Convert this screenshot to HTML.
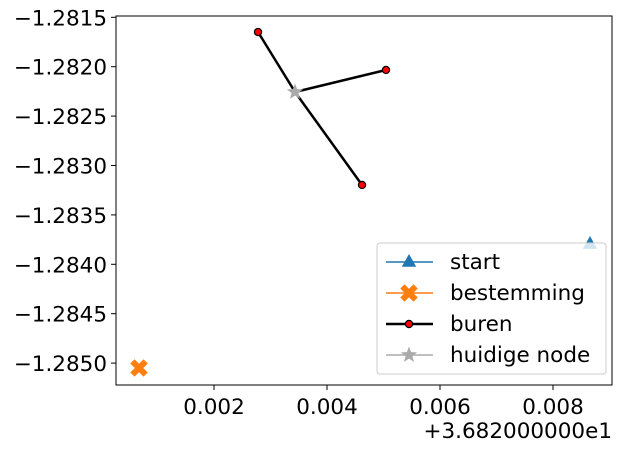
<!DOCTYPE html>
<html><head><meta charset="utf-8"><style>
html,body{margin:0;padding:0;background:#fff}
svg text{font-family:"DejaVu Sans","Liberation Sans",sans-serif;fill:#000}
</style></head><body>
<svg id="chart" width="622" height="449" viewBox="0 0 622 449"></svg>
<script>
const xTicks=[0.002,0.004,0.006,0.008];
const xTickLabels=["0.002","0.004","0.006","0.008"];
const yTicks=[-1.2815,-1.2820,-1.2825,-1.2830,-1.2835,-1.2840,-1.2845,-1.2850];
const yTickLabels=["\u22121.2815","\u22121.2820","\u22121.2825","\u22121.2830","\u22121.2835","\u22121.2840","\u22121.2845","\u22121.2850"];
const startPt=[0.008655,-1.283795];
const destPt=[0.000673,-1.285049];
const currentPt=[0.003434,-1.282256];
const neighborX=[0.002779,0.005044,0.004620];
const neighborY=[-1.281649,-1.282033,-1.283197];
const legendLabels=["start","bestemming","buren","huidige node"];

const L=116,R=612,T=16,B=385,FS=21.5;
function sx(v){return 214+(v-0.002)*56500;}
function sy(v){return 17.3+(-1.2815-v)*98800;}
const svg=document.getElementById('chart');
const NS='http://www.w3.org/2000/svg';
function mk(tag,attrs,parent){const e=document.createElementNS(NS,tag);for(const k in attrs)e.setAttribute(k,attrs[k]);(parent||svg).appendChild(e);return e;}
function tri(x,y,s,c,p){return mk('polygon',{points:`${x},${y-s} ${x-s*0.9},${y+s*0.6} ${x+s*0.9},${y+s*0.6}`,fill:c},p);}
function cross(x,y,c,p){const g=mk('g',{},p);mk('path',{d:`M${x-4.5},${y-4.5}L${x+4.5},${y+4.5}M${x+4.5},${y-4.5}L${x-4.5},${y+4.5}`,stroke:c,'stroke-width':6,'stroke-linecap':'square'},g);return g;}
function star(x,y,r,c,p){let q=[];for(let i=0;i<10;i++){const a=-Math.PI/2+i*Math.PI/5;const rr=i%2?r*0.42:r;q.push((x+rr*Math.cos(a)).toFixed(1)+','+(y+rr*Math.sin(a)).toFixed(1));}return mk('polygon',{points:q.join(' '),fill:c},p);}

const frame=mk('rect',{x:L,y:T,width:R-L,height:B-T,fill:'none',stroke:'#000','stroke-width':1});


xTicks.forEach((v,i)=>{
  const x=sx(v);
  const t=mk('line',{x1:x,x2:x,y1:B,y2:B+5,stroke:'#000'});
  
  
  const lb=mk('text',{x:x,y:B+29,'text-anchor':'middle','font-size':FS});
  lb.textContent=xTickLabels[i];
  
  
});
const off=mk('text',{x:R,y:B+53,'text-anchor':'end','font-size':FS});
off.textContent='+3.682000000e1';


yTicks.forEach((v,i)=>{
  const y=sy(v);
  const t=mk('line',{x1:L-5,x2:L,y1:y,y2:y,stroke:'#000'});
  
  
  const lb=mk('text',{x:L-9,y:y+8,'text-anchor':'end','font-size':FS});
  lb.textContent=yTickLabels[i];
  
  
});
const s1=tri(sx(startPt[0]),sy(startPt[1]),8,'#1f77b4');


const s2=cross(sx(destPt[0]),sy(destPt[1]),'#ff7f0e');


neighborX.forEach((nx,i)=>{
  const ln=mk('line',{x1:sx(currentPt[0]),y1:sy(currentPt[1]),x2:sx(nx),y2:sy(neighborY[i]),stroke:'#000','stroke-width':2.5});
  
  
});
neighborX.forEach((nx,i)=>{
  const c=mk('circle',{cx:sx(nx),cy:sy(neighborY[i]),r:3.6,fill:'#ff0000',stroke:'#000','stroke-width':1.2});
  
  
});
const cs=star(sx(currentPt[0]),sy(currentPt[1]),8.5,'#aaaaaa');


const lg=mk('g',{});


mk('rect',{x:377,y:243,width:229,height:131,rx:3,fill:'#fff','fill-opacity':0.8,stroke:'#cccccc'},lg);
const ly=[262,293,324,355];
const cols=['#1f77b4','#ff7f0e','#000','#aaaaaa'];
legendLabels.forEach((name,i)=>{
  const y=ly[i];
  const e=mk('g',{},lg);
  
  
  mk('line',{x1:386,x2:433,y1:y,y2:y,stroke:cols[i],'stroke-width':i==2?2.5:1.6},e);
  const cx=409;
  if(i==0)tri(cx,y,8,cols[0],e);
  if(i==1)cross(cx,y,cols[1],e);
  if(i==2)mk('circle',{cx:cx,cy:y,r:3.6,fill:'#f00',stroke:'#000','stroke-width':1.2},e);
  if(i==3)star(cx,y,8.5,cols[3],e);
  const t=mk('text',{x:450,y:y+7,'font-size':FS},e);
  t.textContent=name;
});
</script>
</body></html>
